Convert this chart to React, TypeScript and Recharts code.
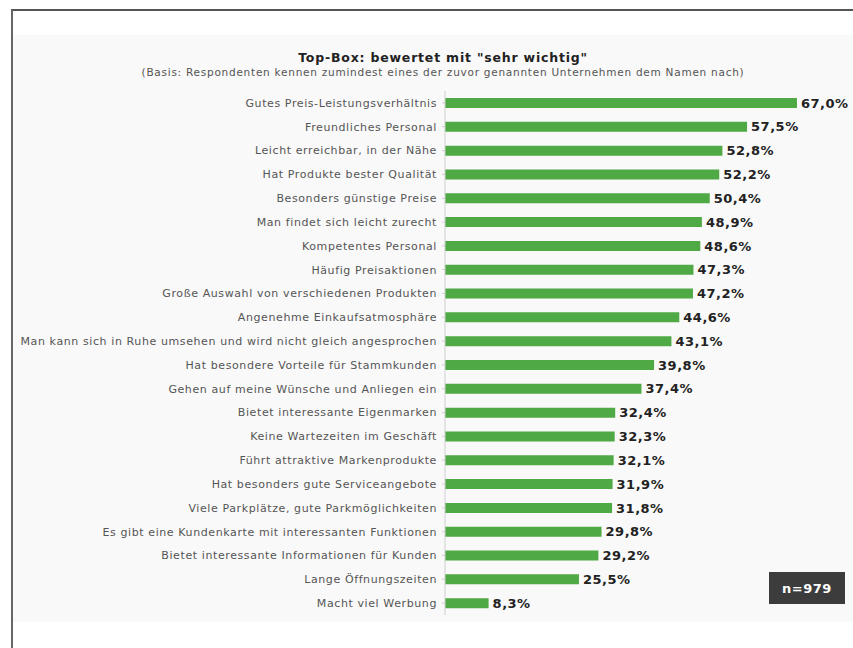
import React from 'react';
import { BarChart, Bar, XAxis, YAxis, LabelList } from 'recharts';

const categories = [
    'Gutes Preis-Leistungsverhältnis',
    'Freundliches Personal',
    'Leicht erreichbar, in der Nähe',
    'Hat Produkte bester Qualität',
    'Besonders günstige Preise',
    'Man findet sich leicht zurecht',
    'Kompetentes Personal',
    'Häufig Preisaktionen',
    'Große Auswahl von verschiedenen Produkten',
    'Angenehme Einkaufsatmosphäre',
    'Man kann sich in Ruhe umsehen und wird nicht gleich angesprochen',
    'Hat besondere Vorteile für Stammkunden',
    'Gehen auf meine Wünsche und Anliegen ein',
    'Bietet interessante Eigenmarken',
    'Keine Wartezeiten im Geschäft',
    'Führt attraktive Markenprodukte',
    'Hat besonders gute Serviceangebote',
    'Viele Parkplätze, gute Parkmöglichkeiten',
    'Es gibt eine Kundenkarte mit interessanten Funktionen',
    'Bietet interessante Informationen für Kunden',
    'Lange Öffnungszeiten',
    'Macht viel Werbung',
];

const values = [
    67.0, 57.5, 52.8, 52.2, 50.4, 48.9, 48.6, 47.3, 47.2, 44.6, 43.1,
    39.8, 37.4, 32.4, 32.3, 32.1, 31.9, 31.8, 29.8, 29.2, 25.5, 8.3,
];

const title = 'Top-Box: bewertet mit "sehr wichtig"';
const subtitle = '(Basis: Respondenten kennen zumindest eines der zuvor genannten Unternehmen dem Namen nach)';
const sampleSize = 'n=979';

const data = categories.map((name, i) => ({ name, value: values[i] }));

const font = '"DejaVu Sans", Verdana, sans-serif';

export default function App() {
    return (
        <div style={{ position: 'absolute', top: 0, left: 0, width: 853, height: 648, background: '#fff', fontFamily: font, overflow: 'hidden' }}>
            <div style={{ position: 'absolute', top: 35, left: 12, width: 841, height: 587, background: '#f9f9f9' }} />
            <div style={{ position: 'absolute', top: 9, left: 11, width: 842, height: 639, borderTop: '2px solid #555', borderLeft: '2px solid #666', boxSizing: 'border-box' }} />
            <div style={{ position: 'absolute', top: 50, left: 0, width: 886, textAlign: 'center', fontWeight: 'bold', fontSize: 12.5, letterSpacing: 0.8, color: '#222' }}>
                {title}
            </div>
            <div style={{ position: 'absolute', top: 66, left: 0, width: 886, textAlign: 'center', fontSize: 10.5, letterSpacing: 0.75, color: '#555' }}>
                {subtitle}
            </div>
            <div style={{ position: 'absolute' }}>
                <BarChart
                    width={853}
                    height={648}
                    data={data}
                    layout="vertical"
                    margin={{ top: 91, right: 14, bottom: 33, left: 0 }}
                >
                    <XAxis type="number" domain={[0, 75]} hide />
                    <YAxis
                        type="category"
                        dataKey="name"
                        width={445}
                        interval={0}
                        axisLine={{ stroke: '#cfcfcf' }}
                        tickLine={{ stroke: '#cfcfcf' }}
                        tickSize={3}
                        tickMargin={5}
                        tick={{ fontSize: 11, letterSpacing: 0.6, fill: '#555', fontFamily: font }}
                    />
                    <Bar dataKey="value" fill="#4fa944" barSize={10} isAnimationActive={false}>
                        <LabelList
                            dataKey="value"
                            position="right"
                            offset={4}
                            formatter={(v: number) => `${v.toFixed(1).replace('.', ',')}%`}
                            style={{ fontSize: 13, letterSpacing: 0.5, fontWeight: 'bold', fill: '#222', fontFamily: font }}
                        />
                    </Bar>
                </BarChart>
            </div>
            <div style={{ position: 'absolute', left: 769, top: 572, width: 76, height: 32, background: '#3c3c3c', color: '#fff', fontWeight: 'bold', fontSize: 13, letterSpacing: 0.5, display: 'flex', alignItems: 'center', justifyContent: 'center' }}>
                {sampleSize}
            </div>
        </div>
    );
}
